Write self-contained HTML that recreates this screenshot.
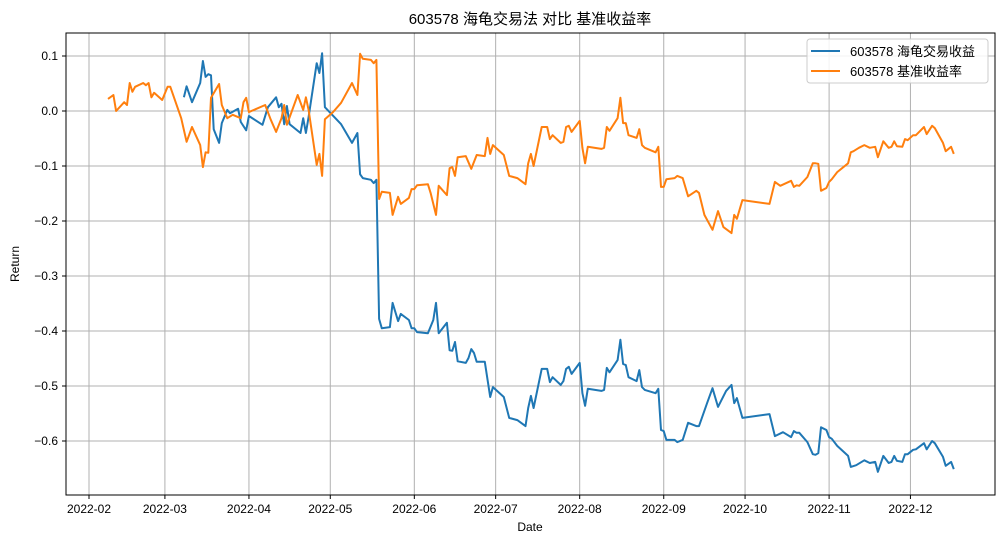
<!DOCTYPE html>
<html><head><meta charset="utf-8"><style>
body{margin:0;background:#fff;}
svg text{font-family:"Liberation Sans","Noto Sans CJK SC",sans-serif;fill:#000;}
</style></head><body>
<svg id="chart" width="1005" height="543" xmlns="http://www.w3.org/2000/svg">
<text x="530" y="24" font-size="15" text-anchor="middle">603578 海龟交易法 对比 基准收益率</text>
<g id="grid"></g>
<g id="xticks"></g>
<g id="yticks"></g>
<g id="series"></g>
<rect x="66" y="33" width="929" height="462" fill="none" stroke="#000" stroke-width="1"/>
<text x="530" y="531" font-size="12" text-anchor="middle">Date</text>
<text x="19" y="264" font-size="12" text-anchor="middle" transform="rotate(-90 19 264)">Return</text>
<g>
<rect x="807" y="39" width="181" height="44" rx="3" fill="#fff" fill-opacity="0.85" stroke="#ccc"/>
<line x1="811" y1="51" x2="840" y2="51" stroke="#1f77b4" stroke-width="2"/>
<text x="850" y="56" font-size="13">603578 海龟交易收益</text>
<line x1="811" y1="71" x2="840" y2="71" stroke="#ff7f0e" stroke-width="2"/>
<text x="850" y="76" font-size="13">603578 基准收益率</text>
</g>
</svg>
<script>
// days since 2022-02-01
const tickLabels = ["2022-02","2022-03","2022-04","2022-05","2022-06","2022-07","2022-08","2022-09","2022-10","2022-11","2022-12"];
const tickDays = [0,28,59,89,120,150,181,212,242,273,303];
const yTicks = [0.1,0.0,-0.1,-0.2,-0.3,-0.4,-0.5,-0.6];
const benchDays = [7,9,10,13,14,15,16,17,20,21,22,23,24,27,29,30,34,36,38,41,42,43,44,45,48,49,51,53,56,57,58,59,65,67,69,71,72,73,77,79,80,81,84,85,86,87,90,93,97,99,100,101,104,105,106,107,108,111,112,114,115,118,119,120,121,125,126,128,129,132,133,134,135,136,139,141,143,146,147,148,149,153,155,158,161,162,163,164,167,169,170,171,174,175,176,177,178,181,182,183,184,189,190,191,192,195,196,197,198,199,202,203,204,205,209,210,211,212,213,216,217,219,221,224,225,227,230,232,234,237,238,239,241,251,253,255,259,260,261,262,265,267,268,269,270,272,273,274,276,280,281,282,284,286,288,290,291,293,295,296,297,298,300,301,302,304,305,308,309,311,312,315,316,318,319];
const benchVals = [0.022,0.029,0,0.016,0.011,0.051,0.035,0.044,0.051,0.047,0.051,0.025,0.033,0.02,0.044,0.044,-0.013,-0.056,-0.029,-0.062,-0.102,-0.075,-0.076,0.024,0.049,0.011,-0.013,-0.007,-0.013,0.016,0.024,-0.002,0.011,-0.015,-0.038,-0.013,0.011,-0.025,0.029,0.002,0.025,0.002,-0.098,-0.078,-0.118,-0.015,-0.002,0.015,0.051,0.029,0.104,0.095,0.093,0.087,0.093,-0.16,-0.147,-0.149,-0.189,-0.156,-0.169,-0.158,-0.142,-0.142,-0.135,-0.133,-0.149,-0.189,-0.136,-0.153,-0.104,-0.102,-0.118,-0.084,-0.082,-0.105,-0.08,-0.082,-0.049,-0.078,-0.062,-0.08,-0.118,-0.122,-0.133,-0.095,-0.078,-0.1,-0.029,-0.029,-0.051,-0.044,-0.058,-0.056,-0.029,-0.027,-0.038,-0.018,-0.067,-0.095,-0.065,-0.069,-0.067,-0.029,-0.036,-0.013,0.024,-0.022,-0.022,-0.044,-0.049,-0.033,-0.062,-0.067,-0.075,-0.065,-0.138,-0.138,-0.124,-0.122,-0.118,-0.122,-0.155,-0.145,-0.149,-0.189,-0.216,-0.182,-0.211,-0.222,-0.189,-0.196,-0.162,-0.169,-0.129,-0.136,-0.127,-0.138,-0.135,-0.136,-0.12,-0.095,-0.095,-0.096,-0.145,-0.14,-0.129,-0.124,-0.111,-0.095,-0.075,-0.073,-0.067,-0.062,-0.067,-0.065,-0.084,-0.055,-0.067,-0.065,-0.055,-0.064,-0.065,-0.051,-0.053,-0.044,-0.044,-0.029,-0.042,-0.027,-0.031,-0.058,-0.073,-0.065,-0.078];
const turtleDays = [35,36,38,41,42,43,44,45,46,48,49,51,52,55,56,58,59,64,66,69,70,71,72,73,74,78,79,80,81,84,85,86,87,93,97,99,100,101,104,105,106,107,108,111,112,114,115,118,119,120,121,125,127,128,129,132,133,134,135,136,139,140,141,142,143,146,148,149,153,155,158,161,162,163,164,167,169,170,171,174,175,176,177,178,181,182,183,184,189,190,191,192,195,196,197,198,199,202,203,204,205,209,210,211,212,213,216,217,219,221,224,225,228,230,232,235,237,238,239,241,251,253,256,259,260,261,262,265,267,268,269,270,272,273,274,276,280,281,283,286,288,290,291,293,295,296,297,298,300,301,302,304,305,308,309,311,312,315,316,318,319];
const turtleVals = [0.025,0.045,0.016,0.051,0.091,0.062,0.067,0.065,-0.033,-0.058,-0.022,0.002,-0.004,0.004,-0.02,-0.035,-0.009,-0.025,0.007,0.025,0.007,0.013,-0.024,0.009,-0.024,-0.04,-0.013,-0.04,-0.011,0.087,0.069,0.105,0.007,-0.024,-0.058,-0.04,-0.115,-0.122,-0.125,-0.131,-0.125,-0.378,-0.395,-0.393,-0.349,-0.382,-0.369,-0.38,-0.395,-0.395,-0.402,-0.404,-0.38,-0.349,-0.404,-0.385,-0.435,-0.436,-0.42,-0.455,-0.458,-0.449,-0.433,-0.44,-0.456,-0.456,-0.52,-0.502,-0.52,-0.558,-0.562,-0.573,-0.54,-0.518,-0.54,-0.469,-0.469,-0.493,-0.484,-0.498,-0.491,-0.469,-0.465,-0.478,-0.458,-0.513,-0.536,-0.505,-0.509,-0.507,-0.467,-0.475,-0.453,-0.416,-0.46,-0.462,-0.484,-0.491,-0.471,-0.502,-0.507,-0.513,-0.505,-0.58,-0.582,-0.598,-0.598,-0.602,-0.598,-0.567,-0.573,-0.573,-0.531,-0.504,-0.538,-0.509,-0.498,-0.531,-0.522,-0.558,-0.551,-0.591,-0.584,-0.593,-0.582,-0.585,-0.585,-0.602,-0.624,-0.625,-0.622,-0.575,-0.58,-0.593,-0.596,-0.609,-0.627,-0.647,-0.644,-0.635,-0.64,-0.638,-0.656,-0.627,-0.64,-0.638,-0.627,-0.636,-0.638,-0.624,-0.624,-0.616,-0.615,-0.604,-0.615,-0.6,-0.604,-0.629,-0.645,-0.638,-0.651];

const NS = "http://www.w3.org/2000/svg";
function xs(d){ return 89 + d * 2.711; }
function ys(v){ return 111 - v * 550; }
const grid = document.getElementById('grid'), xt = document.getElementById('xticks'), yt = document.getElementById('yticks'), sg = document.getElementById('series');
function mk(tag, attrs, parent){ const e = document.createElementNS(NS, tag); for (const k in attrs) e.setAttribute(k, attrs[k]); parent.appendChild(e); return e; }
tickDays.forEach((d, i) => {
  const x = xs(d);
  const gl = mk('line', {x1:x, x2:x, y1:33, y2:495, stroke:'#b0b0b0', 'stroke-width':1}, grid);
  
  
  mk('line', {x1:x, x2:x, y1:495, y2:499, stroke:'#000'}, xt);
  const t = mk('text', {x:x, y:513, 'font-size':12, 'text-anchor':'middle'}, xt);
  t.textContent = tickLabels[i];
  
  
});
yTicks.forEach(v => {
  const y = ys(v);
  const gl = mk('line', {x1:66, x2:995, y1:y, y2:y, stroke:'#b0b0b0', 'stroke-width':1}, grid);
  
  
  mk('line', {x1:62, x2:66, y1:y, y2:y, stroke:'#000'}, yt);
  const t = mk('text', {x:58, y:y + 4, 'font-size':12, 'text-anchor':'end'}, yt);
  t.textContent = (v < 0 ? '\u2212' : '') + Math.abs(v).toFixed(1);
  
  
});
function path(days, vals, color, name){
  const d = days.map((dd, i) => (i ? 'L' : 'M') + xs(dd).toFixed(1) + ' ' + ys(vals[i]).toFixed(1)).join(' ');
  const p = mk('path', {d:d, fill:'none', stroke:color, 'stroke-width':2, 'stroke-linejoin':'round'}, sg);
  
  
}
path(turtleDays, turtleVals, '#1f77b4', 'turtle-return-line');
path(benchDays, benchVals, '#ff7f0e', 'benchmark-return-line');
</script>
</body></html>
